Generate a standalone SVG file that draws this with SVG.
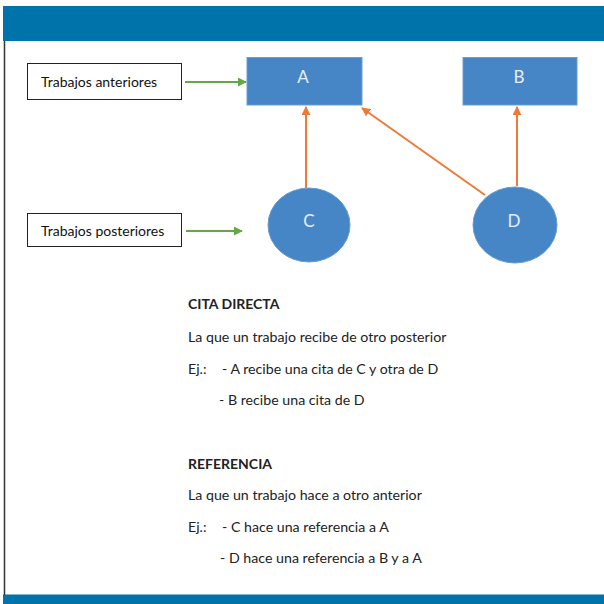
<svg xmlns="http://www.w3.org/2000/svg" width="604" height="604" viewBox="0 0 604 604">
  <defs>
    <style>
      .bar { fill: #0173AB; }
      .node { fill: #4686C6; stroke: #6A9DD0; stroke-width: 1; }
      .label { fill: #E6EEF8; font-family: Lato, "Liberation Sans", sans-serif; font-size: 17px; text-anchor: middle; dominant-baseline: central; }
      .box { fill: #FFFFFF; stroke: #222222; stroke-width: 1; }
      .boxtext { fill: #111111; font-family: Lato, "Liberation Sans", sans-serif; font-size: 14px; dominant-baseline: central; }
      .body { fill: #222222; font-family: Lato, "Liberation Sans", sans-serif; font-size: 14.2px; dominant-baseline: central; }
      .head { font-weight: bold; font-size: 14px; }
      .green { stroke: #62A845; stroke-width: 2; fill: none; }
      .orange { stroke: #EE7A35; stroke-width: 2; fill: none; }
    </style>
    <marker id="ag" viewBox="0 0 10 10" refX="9" refY="5" markerWidth="4.5" markerHeight="4.5" orient="auto" markerUnits="strokeWidth">
      <path d="M0,0 L10,5 L0,10 z" fill="#62A845"/>
    </marker>
    <marker id="ao" viewBox="0 0 10 10" refX="9" refY="5" markerWidth="4.5" markerHeight="4.5" orient="auto" markerUnits="strokeWidth">
      <path d="M0,0 L10,5 L0,10 z" fill="#EE7A35"/>
    </marker>
  </defs>

  <rect x="0" y="0" width="604" height="604" fill="#FFFFFF"/>
  <rect class="bar" x="3" y="6" width="601" height="35"/>
  <rect class="bar" x="3" y="594.5" width="601" height="9.5"/>
  <line x1="4.5" y1="41" x2="4.5" y2="595" stroke="#333333" stroke-width="1.5"/>

  <g id="connectors">
    <line class="green" x1="185" y1="82" x2="246" y2="82" marker-end="url(#ag)"/>
    <line class="green" x1="186" y1="231" x2="242" y2="231" marker-end="url(#ag)"/>
    <line class="orange" x1="306" y1="188" x2="306" y2="107" marker-end="url(#ao)"/>
    <line class="orange" x1="485" y1="195" x2="362" y2="108" marker-end="url(#ao)"/>
    <line class="orange" x1="517" y1="186" x2="517" y2="107" marker-end="url(#ao)"/>
  </g>

  <g id="trabajos-anteriores">
    <rect class="box" x="27.5" y="63.5" width="154" height="36"/>
    <text class="boxtext" x="41" y="81">Trabajos anteriores</text>
  </g>
  <g id="trabajos-posteriores">
    <rect class="box" x="27.5" y="213.5" width="154" height="33"/>
    <text class="boxtext" x="41" y="230">Trabajos posteriores</text>
  </g>

  <g id="node-A">
    <rect class="node" x="247" y="57.5" width="115" height="47.5"/>
    <text class="label" x="303" y="76">A</text>
  </g>
  <g id="node-B">
    <rect class="node" x="463" y="57.5" width="114" height="47.5"/>
    <text class="label" x="519" y="76">B</text>
  </g>
  <g id="node-C">
    <ellipse class="node" cx="309" cy="225" rx="41" ry="37"/>
    <text class="label" x="309" y="220">C</text>
  </g>
  <g id="node-D">
    <ellipse class="node" cx="515" cy="225" rx="42" ry="38"/>
    <text class="label" x="514" y="220">D</text>
  </g>

  <g id="text-cita">
    <text class="body head" x="188" y="303">CITA DIRECTA</text>
    <text class="body" x="188" y="336">La que un trabajo recibe de otro posterior</text>
    <text class="body" x="188" y="368">Ej.:</text>
    <text class="body" x="222" y="368">- A recibe una cita de C y otra de D</text>
    <text class="body" x="219" y="399">- B recibe una cita de D</text>
  </g>
  <g id="text-referencia">
    <text class="body head" x="188" y="463">REFERENCIA</text>
    <text class="body" x="188" y="494">La que un trabajo hace a otro anterior</text>
    <text class="body" x="188" y="526">Ej.:</text>
    <text class="body" x="222" y="526">- C hace una referencia a A</text>
    <text class="body" x="220" y="557">- D hace una referencia a B y a A</text>
  </g>
</svg>
